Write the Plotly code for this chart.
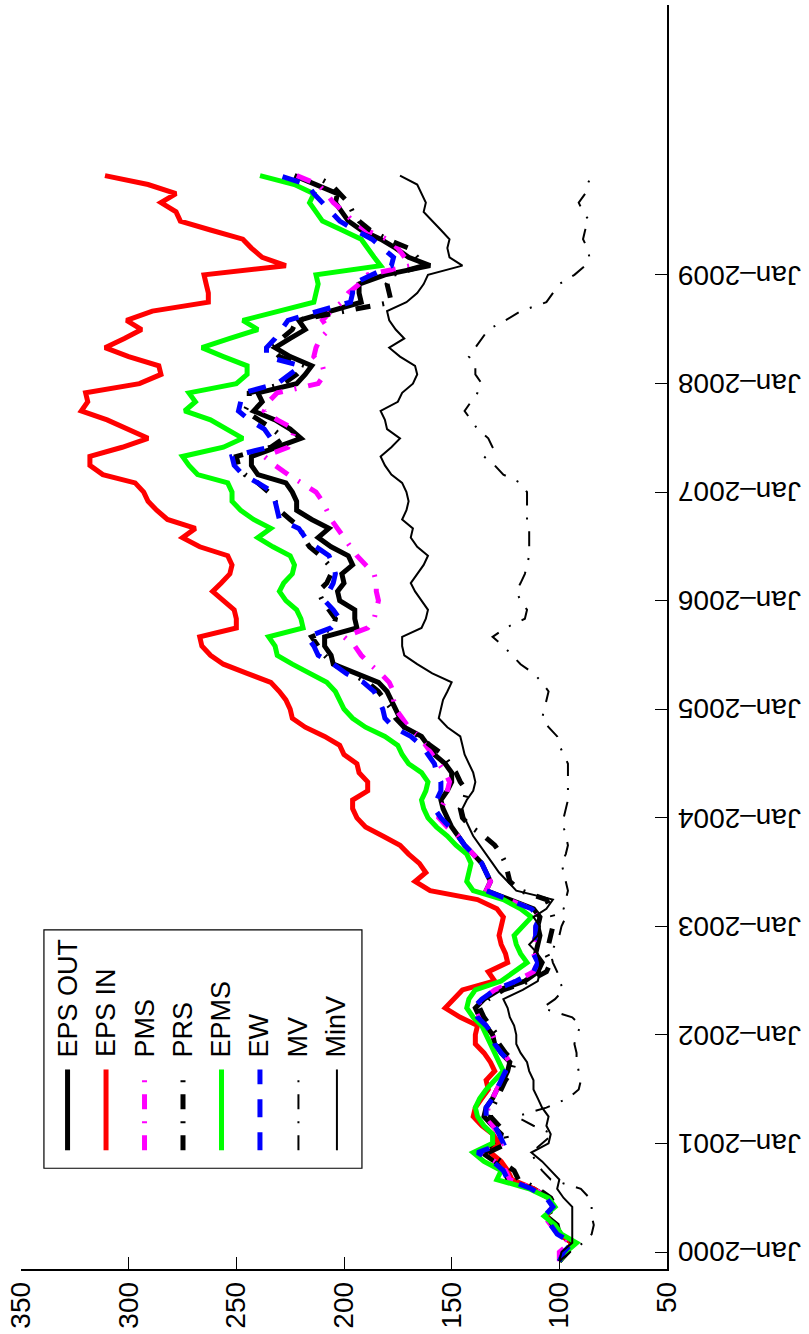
import pandas as pd
import plotly.graph_objects as go

# Monthly index values, Dec-1999 .. Dec-2009 (start = 100)
months = pd.date_range("1999-12-01", periods=121, freq="MS")

eps_out = [100, 97, 94, 100, 101, 106, 103, 105, 112, 124, 125,
           130, 136, 128, 127, 131, 135, 134, 131, 129, 126,
           124, 123, 127, 130, 131, 134, 137, 139, 135, 128,
           116, 110, 108, 111, 110, 109, 110, 109, 112, 124,
           134, 132, 134, 136, 140, 144, 147, 150, 152, 154,
           155, 152, 150, 150, 153, 158, 161, 164, 172, 174,
           176, 178, 180, 184, 195, 205, 206, 209, 209, 194,
           195, 195, 202, 203, 200, 201, 196, 198, 206, 212,
           207, 215, 222, 222, 224, 227, 240, 243, 243, 231,
           220, 225, 232, 242, 238, 240, 222, 218, 215, 225,
           232, 225, 218, 221, 207, 192, 193, 193, 181, 160,
           170, 176, 183, 192, 198, 201, 204, 203, 213, 223]

eps_in = [100, 97, 94, 100, 103, 106, 103, 105, 112, 122, 124,
          127, 132, 128, 131, 136, 140, 139, 136, 133, 134,
          130, 132, 135, 139, 139, 138, 146, 153, 149, 145,
          130, 133, 124, 125, 127, 128, 127, 126, 129, 138,
          160, 167, 162, 165, 170, 174, 182, 190, 194, 196,
          196, 189, 189, 193, 194, 200, 202, 209, 218, 224,
          225, 227, 230, 234, 245, 256, 262, 266, 267, 250,
          250, 251, 256, 261, 257, 253, 252, 254, 267, 275,
          269, 282, 287, 291, 293, 297, 312, 318, 318, 303,
          291, 300, 310, 322, 319, 320, 295, 285, 286, 300,
          311, 302, 294, 301, 289, 263, 263, 264, 265, 227,
          238, 243, 247, 262, 276, 278, 285, 278, 291, 311]

pms = [100, 100, 95, 100, 104, 107, 103, 105, 112, 123, 125,
       130, 137, 126, 128, 131, 134, 133, 131, 129, 127,
       125, 123, 126, 129, 131, 134, 137, 139, 136, 130,
       120, 112, 110, 112, 112, 111, 111, 110, 113, 124,
       134, 132, 134, 136, 140, 144, 147, 152, 156, 155,
       153, 152, 151, 153, 156, 159, 162, 165, 170, 173,
       176, 177, 177, 179, 183, 188, 192, 195, 200, 189,
       186, 185, 184, 185, 185, 186, 190, 194, 197, 200,
       203, 206, 208, 210, 213, 220, 226, 232, 237, 226,
       224, 223, 231, 237, 235, 231, 212, 209, 210, 214,
       213, 211, 207, 210, 206, 201, 198, 193, 189, 169,
       172, 175, 180, 190, 196, 200, 205, 208, 212, 222]

prs = [100, 96, 93, 99, 103, 106, 102, 104, 110, 119, 121,
       127, 133, 124, 125, 128, 132, 131, 129, 127, 125,
       122, 121, 125, 128, 129, 132, 135, 137, 133, 126,
       114, 106, 104, 106, 105, 104, 103, 103, 104, 106,
       118, 123, 124, 125, 127, 130, 135, 141, 145, 146,
       144, 143, 146, 148, 151, 154, 160, 165, 172, 176,
       178, 181, 184, 189, 197, 205, 209, 212, 215, 205,
       204, 207, 210, 212, 208, 206, 207, 211, 216, 219,
       220, 225, 230, 232, 235, 240, 246, 249, 250, 234,
       228, 233, 240, 246, 244, 244, 228, 222, 218, 230,
       234, 229, 224, 222, 200, 178, 179, 180, 178, 163,
       166, 170, 180, 188, 193, 196, 198, 202, 206, 214]

epms = [100, 97, 92, 99, 102, 107, 102, 105, 114, 129, 127,
        135, 140, 131, 131, 135, 138, 139, 137, 134, 130,
        126, 128, 130, 132, 134, 136, 140, 143, 142, 139,
        127, 121, 115, 118, 120, 121, 117, 113, 118, 126,
        140, 143, 142, 141, 143, 148, 152, 157, 161, 163,
        164, 162, 161, 164, 170, 173, 175, 181, 190, 196,
        200, 202, 204, 208, 216, 224, 231, 232, 235, 219,
        220, 222, 227, 230, 228, 224, 223, 225, 233, 240,
        234, 242, 248, 252, 252, 254, 268, 272, 275, 256,
        247, 255, 262, 274, 269, 272, 250, 245, 245, 256,
        266, 253, 240, 247, 230, 214, 213, 212, 213, 183,
        186, 189, 192, 201, 210, 213, 216, 214, 223, 239]

ew = [100, 98, 94, 101, 104, 107, 103, 106, 113, 124, 126,
      131, 138, 126, 128, 130, 134, 134, 131, 129, 127,
      125, 123, 127, 130, 131, 134, 138, 140, 136, 130,
      120, 112, 110, 112, 112, 111, 111, 109, 113, 124,
      134, 132, 134, 136, 140, 144, 147, 151, 155, 158,
      157, 155, 155, 157, 158, 161, 164, 169, 177, 181,
      182, 184, 186, 191, 199, 205, 212, 214, 217, 206,
      202, 205, 209, 207, 205, 204, 205, 207, 213, 218,
      221, 230, 231, 232, 233, 240, 247, 251, 252, 235,
      234, 237, 244, 249, 248, 247, 231, 225, 220, 236,
      236, 232, 229, 226, 212, 197, 196, 196, 187, 178,
      177, 182, 187, 195, 202, 206, 210, 214, 217, 230]

mv = [100, 95, 89, 85, 84, 85, 85, 86, 90, 104, 108,
      111, 113, 108, 103, 112, 120, 106, 96, 91, 90,
      91, 92, 92, 93, 92, 90, 94, 108, 102, 98,
      100, 101, 103, 104, 102, 100, 99, 97, 98, 97,
      96, 97, 98, 99, 97, 96, 97, 98, 98, 97,
      96, 96, 96, 96, 96, 98, 100, 101, 105, 108,
      107, 106, 105, 108, 112, 118, 122, 126, 131, 125,
      116, 115, 118, 120, 118, 116, 115, 114, 114, 114,
      114, 115, 115, 115, 115, 118, 126, 130, 135, 131,
      133, 138, 141, 144, 141, 138, 136, 139, 139, 142,
      139, 136, 133, 125, 118, 106, 103, 100, 93, 88,
      86, 87, 89, 88, 86, 89, 91, 88, 87, 85]

minv = [100, 99, 94, 94, 94, 94, 94, 98, 101, 100, 104,
        108, 113, 105, 104, 106, 105, 108, 110, 112, 112,
        114, 115, 118, 120, 120, 121, 123, 124, 126, 117,
        110, 109, 109, 110, 114, 110, 109, 112, 106, 103,
        120, 124, 128, 131, 134, 137, 140, 142, 144, 145,
        143, 140, 139, 140, 142, 144, 145, 146, 152, 156,
        155, 154, 152, 150, 159, 166, 172, 173, 173, 164,
        162, 161, 164, 167, 169, 166, 163, 161, 166, 169,
        168, 173, 171, 170, 171, 173, 178, 181, 183, 178,
        174, 180, 181, 183, 175, 173, 168, 166, 167, 174,
        179, 172, 176, 179, 180, 171, 166, 163, 161, 145,
        151, 152, 151, 155, 159, 163, 162, 164, 166, 174]

value_ticks = [50, 100, 150, 200, 250, 300, 350]
date_ticks = pd.date_range("2000-01-01", "2009-01-01", freq="YS")
date_labels = [d.strftime("%b") + "\u2013" + d.strftime("%Y") for d in date_ticks]

DASHDOT = "15px,12px,2px,12px"
DASHED = "18px,15px"

series = [
    ("EPS OUT", eps_out, "#000000", 5, "solid"),
    ("EPS IN", eps_in, "#ff0000", 5, "solid"),
    ("PMS", pms, "#ff00ff", 5, DASHDOT),
    ("PRS", prs, "#000000", 5, DASHDOT),
    ("EPMS", epms, "#00ff00", 5, "solid"),
    ("EW", ew, "#0000ff", 5, DASHED),
    ("MV", mv, "#000000", 2, DASHDOT),
    ("MinV", minv, "#000000", 2, "solid"),
]

W, H = 809, 1334
ML, MR, MT, MB = 19, 142, 5, 62
PW, PH = W - ML - MR, H - MT - MB


def pxx(xp):
    return (xp - ML) / PW


def pxy(yp):
    return (H - MB - yp) / PH


FONT = "Liberation Sans, Arial, Helvetica, sans-serif"

fig = go.Figure()
for name, vals, color, width, dash in series:
    fig.add_trace(go.Scatter(
        x=vals, y=months, mode="lines", name=name,
        line=dict(color=color, width=width, dash=dash),
        showlegend=False,
    ))

# Legend box drawn with rotated labels
shapes = [dict(type="rect", xref="paper", yref="paper",
               x0=pxx(42), x1=pxx(361), y0=pxy(1171), y1=pxy(932),
               line=dict(color="black", width=1.2), fillcolor="white",
               layer="above")]
annotations = []
for k, (name, _, color, width, dash) in enumerate(series):
    cx = 65.7 + 38.6 * k
    shapes.append(dict(type="line", xref="paper", yref="paper",
                       x0=pxx(cx), x1=pxx(cx), y0=pxy(1153), y1=pxy(1072),
                       line=dict(color=color, width=width, dash=dash),
                       layer="above"))
    annotations.append(dict(text=name, xref="paper", yref="paper",
                            x=pxx(cx), y=pxy(1062), xanchor="center",
                            yanchor="bottom", textangle=-90, showarrow=False,
                            font=dict(family=FONT, size=27, color="black")))

# Upside-down date labels to the right of the date axis
for d, lab in zip(date_ticks, date_labels):
    annotations.append(dict(text=lab, xref="paper", yref="y",
                            x=pxx(676), y=d.strftime("%Y-%m-%d"),
                            xanchor="left", yanchor="middle", textangle=180,
                            showarrow=False,
                            font=dict(family=FONT, size=28, color="black")))

fig.update_layout(
    width=W, height=H,
    margin=dict(l=ML, r=MR, t=MT, b=MB, pad=0),
    paper_bgcolor="white", plot_bgcolor="white",
    font=dict(family=FONT, size=28, color="black"),
    shapes=shapes, annotations=annotations,
    xaxis=dict(range=[350, 50], tickvals=value_ticks, ticks="inside",
               ticklen=12, tickwidth=1, tickcolor="black", tickangle=-90,
               showline=True, linecolor="black", linewidth=1.5,
               showgrid=False, zeroline=False, mirror=False,
               tickfont=dict(size=28)),
    yaxis=dict(type="date", side="right",
               range=["1999-11-05", "2011-06-28"],
               tickvals=list(date_ticks), showticklabels=False,
               ticks="inside", ticklen=12, tickwidth=1, tickcolor="black",
               showline=True, linecolor="black",
               linewidth=1.5, showgrid=False, zeroline=False, mirror=False),
)

fig.write_html("out.html")
